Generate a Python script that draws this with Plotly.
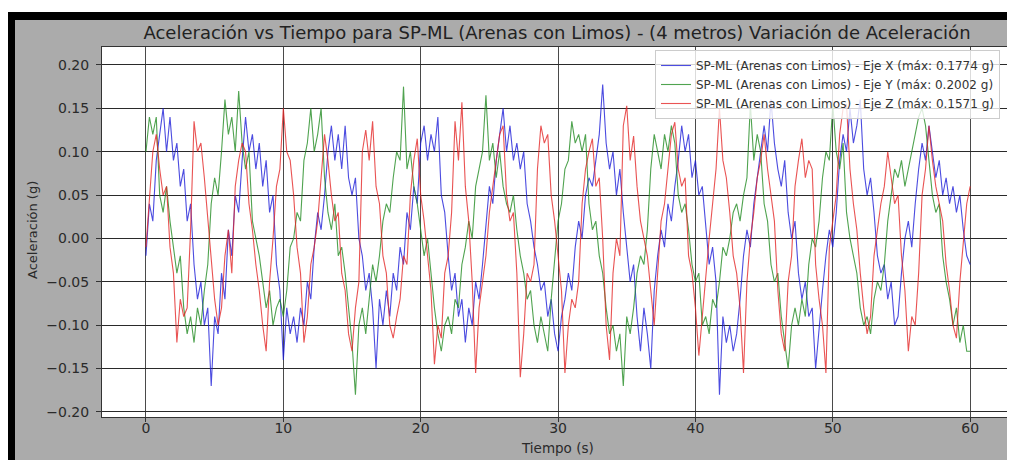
import plotly.graph_objects as go

# Sample interval (s)
dt = 0.25

eje_x = [
    -0.02, 0.04, 0.02, 0.09, 0.12, 0.15, 0.10, 0.14, 0.09, 0.11, 0.06, 0.08, 0.02, 0.04, -0.03, -0.07, -0.05, -0.10, -0.08, -0.17,
    -0.09, -0.11, -0.04, -0.07, 0.01, -0.02, 0.05, 0.03, 0.09, 0.14, 0.10, 0.12, 0.08, 0.11, 0.06, 0.09, 0.03, 0.05, -0.03, -0.06,
    -0.14, -0.08, -0.11, -0.09, -0.12, -0.08, -0.10, -0.05, -0.07, -0.01, 0.03, 0.01, 0.05, 0.10, 0.13, 0.09, 0.12, 0.08, 0.13, 0.07,
    0.05, 0.07, 0.00, -0.02, -0.06, -0.04, -0.08, -0.15, -0.07, -0.10, -0.06, -0.09, -0.04, -0.06, -0.01, -0.03, 0.03, 0.01, 0.06, 0.04,
    0.11, 0.13, 0.09, 0.12, 0.10, 0.14, 0.05, 0.03, -0.02, -0.06, -0.04, -0.09, -0.07, -0.12, -0.08, -0.10, -0.05, -0.07, -0.03, 0.02,
    0.06, 0.04, 0.09, 0.12, 0.15, 0.10, 0.13, 0.09, 0.11, 0.08, 0.10, 0.04, 0.02, -0.01, -0.03, -0.06, -0.05, -0.09, -0.07, -0.11,
    -0.13, -0.09, -0.07, -0.04, -0.06, -0.01, 0.02, 0.00, 0.05, 0.07, 0.06, 0.09, 0.12, 0.1774, 0.11, 0.08, 0.10, 0.05, 0.08, 0.03,
    -0.01, -0.05, -0.03, -0.09, -0.13, -0.08, -0.11, -0.15, -0.06, -0.02, 0.01, -0.01, 0.04, 0.02, 0.06, 0.09, 0.13, 0.10, 0.12, 0.07,
    0.09, 0.05, 0.06, 0.01, -0.03, -0.01, -0.05, -0.18, -0.09, -0.12, -0.10, -0.13, -0.11, -0.07, -0.02, 0.01, -0.01, 0.04, 0.07, 0.10,
    0.13, 0.10, 0.16, 0.11, 0.08, 0.06, 0.09, 0.03, 0.00, 0.02, -0.04, -0.07, -0.05, -0.09, -0.08, -0.15, -0.10, -0.06, -0.02, 0.01,
    -0.01, 0.03, 0.09, 0.12, 0.10, 0.15, 0.11, 0.13, 0.16, 0.08, 0.05, 0.07, 0.03, -0.02, -0.04, -0.03, -0.07, -0.05, -0.10, -0.09,
    -0.04, 0.00, 0.02, -0.01, 0.04, 0.08, 0.11, 0.09, 0.13, 0.10, 0.07, 0.09, 0.05, 0.07, 0.04, 0.06, 0.03, 0.05, 0.01, -0.02,
    -0.03,
]

eje_y = [
    0.10, 0.14, 0.12, 0.14, 0.05, 0.03, 0.06, 0.02, -0.01, -0.04, -0.02, -0.08, -0.11, -0.09, -0.12, -0.08, -0.10, -0.06, -0.03, 0.04,
    0.07, 0.05, 0.10, 0.16, 0.12, 0.14, 0.10, 0.17, 0.11, 0.08, 0.10, 0.02, 0.00, -0.02, -0.05, -0.08, -0.06, -0.10, -0.08, -0.07,
    -0.09, -0.06, -0.01, 0.00, 0.03, 0.02, 0.09, 0.11, 0.15, 0.10, 0.12, 0.15, 0.07, 0.03, 0.01, 0.04, -0.02, -0.01, -0.04, -0.08,
    -0.12, -0.18, -0.10, -0.08, -0.11, -0.07, -0.03, -0.05, -0.02, 0.02, 0.04, 0.03, 0.07, 0.10, 0.09, 0.175, 0.08, 0.10, 0.06, 0.04,
    0.01, -0.02, 0.00, -0.04, -0.08, -0.11, -0.13, -0.10, -0.09, -0.11, -0.07, -0.08, -0.03, -0.01, 0.02, 0.00, 0.06, 0.08, 0.10, 0.165,
    0.09, 0.11, 0.07, 0.10, 0.06, 0.04, 0.03, 0.05, 0.01, -0.02, -0.04, -0.07, -0.06, -0.10, -0.12, -0.09, -0.11, -0.13, -0.07, -0.02,
    0.02, 0.04, 0.08, 0.09, 0.135, 0.11, 0.12, 0.10, 0.12, 0.04, 0.01, 0.02, -0.02, -0.04, -0.08, -0.11, -0.10, -0.13, -0.11, -0.17,
    -0.09, -0.11, -0.08, -0.04, -0.02, -0.03, 0.01, 0.08, 0.12, 0.10, 0.08, 0.12, 0.10, 0.13, 0.11, 0.05, 0.03, 0.04, 0.01, -0.03,
    -0.05, -0.04, -0.10, -0.09, -0.11, -0.07, -0.08, -0.05, -0.01, -0.02, 0.00, 0.03, 0.04, 0.02, 0.05, 0.07, 0.155, 0.09, 0.12, 0.10,
    0.04, 0.02, -0.03, -0.05, -0.04, -0.09, -0.12, -0.15, -0.10, -0.08, -0.10, -0.07, -0.09, -0.03, 0.00, -0.01, 0.02, 0.07, 0.10, 0.09,
    0.155, 0.10, 0.08, 0.11, 0.03, 0.00, -0.02, -0.04, -0.08, -0.10, -0.09, -0.11, -0.07, -0.05, -0.06, -0.03, 0.02, 0.05, 0.08, 0.07,
    0.09, 0.06, 0.08, 0.10, 0.12, 0.14, 0.15, 0.13, 0.09, 0.05, 0.03, 0.04, -0.02, -0.05, -0.07, -0.10, -0.08, -0.12, -0.10, -0.13,
    -0.13,
]

eje_z = [
    -0.01, 0.05, 0.10, 0.12, 0.08, 0.05, 0.06, -0.01, -0.04, -0.12, -0.07, -0.09, -0.08, 0.01, 0.135, 0.10, 0.11, 0.07, 0.02, -0.03,
    -0.07, -0.10, -0.08, -0.02, 0.01, -0.04, 0.06, 0.09, 0.11, 0.10, 0.04, 0.01, -0.03, -0.06, -0.10, -0.13, -0.05, 0.00, 0.06, 0.08,
    0.15, 0.10, 0.09, 0.05, -0.01, -0.04, -0.12, -0.09, -0.03, -0.01, 0.02, 0.07, 0.12, 0.09, 0.05, 0.02, 0.03, -0.04, -0.06, -0.11,
    -0.13, -0.08, -0.05, 0.10, 0.125, 0.09, 0.135, 0.06, 0.04, -0.02, -0.04, -0.10, -0.115, -0.09, -0.07, -0.02, -0.03, 0.05, 0.09, 0.115,
    0.05, 0.02, -0.02, -0.06, -0.145, -0.10, -0.115, -0.04, -0.02, 0.03, 0.135, 0.09, 0.1571, 0.06, 0.02, -0.05, -0.155, -0.08, -0.05, -0.02,
    0.03, 0.06, 0.09, 0.12, 0.13, 0.05, 0.02, 0.03, -0.04, -0.16, -0.11, -0.04, -0.05, -0.03, 0.08, 0.13, 0.11, 0.12, 0.05, 0.02,
    -0.02, -0.06, -0.155, -0.10, -0.07, -0.08, -0.05, 0.04, 0.08, 0.10, 0.115, 0.06, 0.07, 0.00, -0.10, -0.14, -0.04, 0.00, -0.02, 0.13,
    0.153, 0.09, 0.118, 0.06, 0.02, 0.00, -0.02, -0.06, -0.10, -0.04, 0.02, 0.04, 0.08, 0.12, 0.134, 0.08, 0.06, 0.07, -0.02, -0.04,
    -0.08, -0.135, -0.09, -0.04, 0.00, 0.04, 0.08, 0.15, 0.09, 0.07, 0.03, -0.02, -0.04, -0.08, -0.155, -0.05, 0.00, 0.03, 0.07, 0.09,
    0.12, 0.08, 0.05, 0.02, -0.06, -0.11, -0.13, -0.05, -0.02, 0.06, 0.09, 0.115, 0.07, 0.09, 0.08, -0.03, -0.07, -0.10, -0.155, -0.01,
    0.02, 0.05, 0.12, 0.15, 0.155, 0.08, 0.04, 0.01, -0.04, -0.08, -0.11, -0.09, -0.02, 0.01, 0.04, 0.06, 0.10, 0.07, 0.04, 0.05,
    -0.02, -0.06, -0.13, -0.09, -0.10, -0.04, 0.05, 0.08, 0.13, 0.09, 0.06, 0.04, 0.02, -0.03, -0.06, -0.10, -0.115, -0.05, 0.00, 0.04,
    0.06,
]

series_names = [
    "SP-ML (Arenas con Limos) - Eje X (máx: 0.1774 g)",
    "SP-ML (Arenas con Limos) - Eje Y (máx: 0.2002 g)",
    "SP-ML (Arenas con Limos) - Eje Z (máx: 0.1571 g)",
]
series_colors = ["#1a1ad8", "#1f8a1f", "#e42424"]

# The page body has an 8px margin, so the figure starts at (8, 8) of the window.
OFF = 8
W, H = 1015 - OFF, 460 - OFF
L, R, T, B = 94, 5, 39, 43
pw, ph = W - L - R, H - T - B


def px(x):  # figure pixel -> paper x
    return (x - L) / pw


def py(y):  # figure pixel -> paper y
    return (H - B - y) / ph


fig = go.Figure()
for vals, name, col in zip([eje_x, eje_y, eje_z], series_names, series_colors):
    t = [i * dt for i in range(len(vals))]
    fig.add_trace(go.Scatter(x=t, y=vals, mode="lines", name=name,
                             line=dict(color=col, width=1.1), opacity=0.78))

gray = "#ababab"
shapes = [
    dict(type="rect", xref="paper", yref="paper", x0=px(-2), x1=px(W + 2), y0=py(4), y1=py(-2),
         fillcolor="white", line_width=0, layer="below"),
    dict(type="rect", xref="paper", yref="paper", x0=px(1004), x1=px(W + 2), y0=py(H + 2), y1=py(-2),
         fillcolor="white", line_width=0, layer="below"),
    dict(type="rect", xref="paper", yref="paper", x0=px(-2), x1=px(1004), y0=py(12), y1=py(4),
         fillcolor="black", line_width=0, layer="below"),
    dict(type="rect", xref="paper", yref="paper", x0=px(-2), x1=px(7), y0=py(H + 2), y1=py(4),
         fillcolor="black", line_width=0, layer="below"),
]

annotations = [
    dict(text="Tiempo (s)", xref="paper", yref="paper", x=px(549), y=py(440),
         xanchor="center", yanchor="middle", showarrow=False,
         font=dict(size=13.5, color="#2a2a2a")),
    dict(text="Aceleración (g)", xref="paper", yref="paper", x=px(24), y=py(222),
         xanchor="center", yanchor="middle", showarrow=False, textangle=-90,
         font=dict(size=13, color="#2a2a2a")),
]

fig.update_layout(
    width=W, height=H,
    margin=dict(l=L, r=R, t=T, b=B, pad=0),
    paper_bgcolor=gray,
    plot_bgcolor="white",
    font=dict(family="DejaVu Sans", color="#2a2a2a"),
    title=dict(text="Aceleración vs Tiempo para SP-ML (Arenas con Limos) - (4 metros) Variación de Aceleración",
               x=549 / W, xanchor="center", y=1 - 25 / H, yanchor="middle",
               font=dict(size=18, color="#222222")),
    showlegend=True,
    legend=dict(x=px(647), y=py(42), xanchor="left", yanchor="top",
                bgcolor="rgba(255,255,255,0.8)", bordercolor="#cccccc", borderwidth=1,
                font=dict(size=12, color="#333333"), tracegroupgap=0,
                itemwidth=30),
    shapes=shapes,
    annotations=annotations,
    xaxis=dict(range=[-3.2, 62.9], tickmode="linear", tick0=0, dtick=10,
               showgrid=True, gridcolor="#4a4a4a", gridwidth=1,
               showline=True, linecolor="#333333", linewidth=1, mirror=True,
               ticks="outside", ticklen=4, tickcolor="#333333", ticklabelstandoff=-6,
               tickfont=dict(size=14, color="#2a2a2a"), zeroline=False),
    yaxis=dict(range=[-0.2058, 0.2207], tickmode="linear", tick0=0, dtick=0.05,
               tickformat=".2f",
               showgrid=True, gridcolor="#2a2a2a", gridwidth=1.3,
               showline=True, linecolor="#333333", linewidth=1, mirror=True,
               ticks="outside", ticklen=5, tickcolor="#333333", ticklabelstandoff=4,
               tickfont=dict(size=14, color="#2a2a2a"), zeroline=False),
)

fig.write_html("out.html")
